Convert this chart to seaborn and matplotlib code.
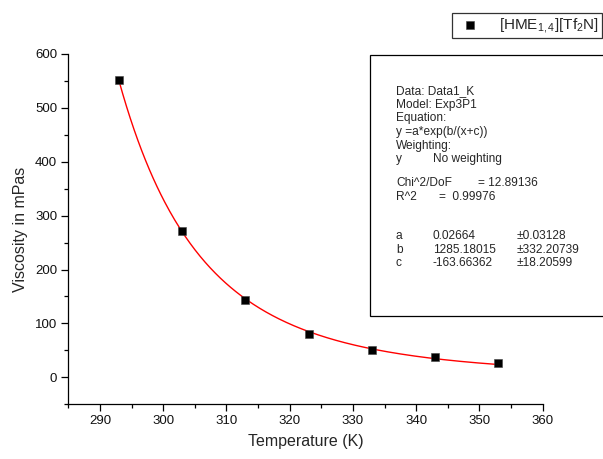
import numpy as np
import pandas as pd
import matplotlib
matplotlib.use("Agg")
import matplotlib.pyplot as plt
from matplotlib.patches import Rectangle
import seaborn as sns

# Measured viscosity of [HME1,4][Tf2N] versus temperature
temperature_k = [293, 303, 313, 323, 333, 343, 353]
viscosity_mpas = [551, 272, 144, 80, 50, 37, 26]

# Exp3P1 fit parameters: y = a*exp(b/(x+c))
fit_a = 0.02664
fit_b = 1285.18015
fit_c = -163.66362

x_ticks = [290, 300, 310, 320, 330, 340, 350, 360]
y_ticks = [0, 100, 200, 300, 400, 500, 600]

report_lines = [
    ("Data: Data1_K", None, None),
    ("Model: Exp3P1", None, None),
    ("Equation:", None, None),
    ("y =a*exp(b/(x+c))", None, None),
    ("Weighting:", None, None),
    ("y", "No weighting", None),
    ("Chi^2/DoF", None, "= 12.89136"),
    ("R^2", "= \u00a00.99976", None),
    ("a", "0.02664", "\u00b10.03128"),
    ("b", "1285.18015", "\u00b1332.20739"),
    ("c", "-163.66362", "\u00b118.20599"),
]

sns.set_style("ticks")
plt.rcParams["font.family"] = ["Liberation Sans", "DejaVu Sans"]
plt.rcParams["mathtext.fontset"] = "custom"
plt.rcParams["mathtext.rm"] = "Liberation Sans"
plt.rcParams["mathtext.it"] = "Liberation Sans"
plt.rcParams["mathtext.default"] = "regular"

W, H = 603, 459
fig = plt.figure(figsize=(W / 100, H / 100), dpi=100)
left, right, top, bottom = 68.3, 542.7, 54.0, 404.2
ax = fig.add_axes([left / W, 1 - bottom / H, (right - left) / W, (bottom - top) / H])

df = pd.DataFrame({"T": temperature_k, "eta": viscosity_mpas})
xf = np.linspace(min(temperature_k), max(temperature_k), 300)
fit_df = pd.DataFrame({"T": xf, "eta": fit_a * np.exp(fit_b / (xf + fit_c))})

sns.lineplot(data=fit_df, x="T", y="eta", color="red", linewidth=1.0, ax=ax, legend=False)
sns.scatterplot(data=df, x="T", y="eta", marker="s", s=34, color="black",
                edgecolor="#444444", linewidth=0.4, ax=ax, zorder=3,
                label="[HME$_{1,4}$][Tf$_2$N]", legend=False)

ax.set_xlim(285, 360)
ax.set_ylim(-50, 600)
ax.set_xticks(x_ticks)
ax.set_yticks(y_ticks)
ax.set_xticks(np.arange(285, 361, 5), minor=True)
ax.set_yticks(np.arange(-50, 601, 50), minor=True)
ax.tick_params(axis="both", which="major", direction="out", length=5, width=0.9,
               labelsize=9.5, pad=3, color="black", labelcolor="#111111")
ax.tick_params(axis="both", which="minor", direction="out", length=3, width=0.9, color="black")
for side in ("top", "right"):
    ax.spines[side].set_visible(False)
for side in ("left", "bottom"):
    ax.spines[side].set_linewidth(0.9)
    ax.spines[side].set_color("black")

ax.set_xlabel("Temperature (K)", fontsize=11.5, labelpad=5)
ax.set_ylabel("Viscosity in mPas", fontsize=11.5, labelpad=5)

# Series key in the upper right corner
handles, labels = ax.get_legend_handles_labels()
leg = fig.legend(handles, labels, loc="upper left",
                 bbox_to_anchor=(452.3 / W, 1 - 13.3 / H), bbox_transform=fig.transFigure,
                 fontsize=11, frameon=True, fancybox=False, borderaxespad=0,
                 borderpad=0.2, handletextpad=0.95, handlelength=1.9,
                 markerscale=1.0)
leg.get_frame().set_edgecolor("black")
leg.get_frame().set_linewidth(0.9)

# Fit report panel
box = Rectangle((370 / W, 1 - 315.7 / H), (640 - 370) / W, (315.7 - 54.7) / H,
                transform=fig.transFigure, facecolor="white", edgecolor="black",
                linewidth=0.9, clip_on=False, zorder=5)
fig.patches.append(box)

baselines = [94.5, 108, 121.5, 135, 148.5, 162, 186.5, 200, 239.5, 253, 266.5]
for (c1, c2, c3), yb in zip(report_lines, baselines):
    yf = 1 - yb / H
    fig.text(396 / W, yf, c1, fontsize=8.6, va="baseline", ha="left", zorder=6)
    if c2 is not None:
        x2 = 433 if not c2.startswith("=") else 439
        fig.text(x2 / W, yf, c2, fontsize=8.6, va="baseline", ha="left", zorder=6)
    if c3 is not None:
        x3 = 517 if c3.startswith("\u00b1") else 478
        fig.text(x3 / W, yf, c3, fontsize=8.6, va="baseline", ha="left", zorder=6)

fig.savefig("out.png", dpi=100)
